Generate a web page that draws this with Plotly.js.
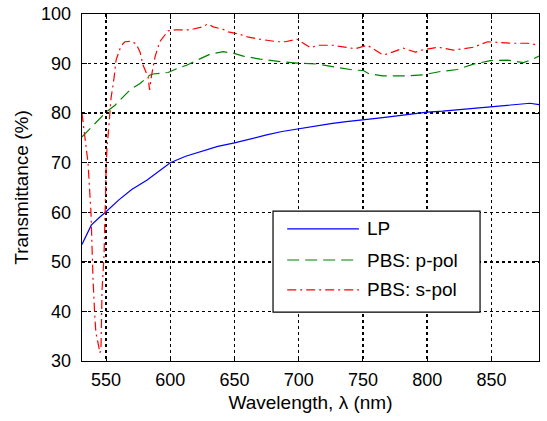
<!DOCTYPE html>
<html>
<head>
<meta charset="utf-8">
<script src="https://cdn.plot.ly/plotly-3.0.1.min.js"></script>
<style>html,body{margin:0;padding:0;background:#fff;}#chart{width:547px;height:421px;}</style>
</head>
<body>
<div id="chart"></div>
<script>
// LP (linear polarizer)
const lpWavelength = [531.3,535,538.5,545,550,560,570,582,590,600,612,625,637,650,662,675,687,700,712,725,737,750,762,775,787,800,812,825,837,850,862,875,880,887];
const lpTrans      = [53.5,55.5,57.4,59,60.1,62.5,64.6,66.5,68,70.0,71.3,72.4,73.3,74.0,74.8,75.6,76.3,76.9,77.4,77.9,78.3,78.6,79.0,79.4,79.8,80.2,80.4,80.7,81.0,81.2,81.5,81.8,82.0,81.7];

// PBS p-polarization
const pWavelength = [531.3,550,557,568.7,576.5,584.3,586.6,598.3,605.3,613.1,620.9,631.0,641.2,649.0,656.8,670.0,685.6,698.8,714.4,723.0,733.9,742.5,750.3,754.2,765.1,783.0,796.2,810.3,823.5,836.0,849.2,862.5,874.9,880.4,887];
const pTrans      = [75.2,80.2,81.6,84.7,86,87.7,87.9,88.2,89,89.7,90.7,91.9,92.4,92.1,91.5,90.9,90.4,90.1,89.9,89.5,89,88.7,88.6,88.0,87.5,87.5,87.7,88.4,88.8,89.9,90.6,90.7,90.2,90.7,91.5];

// PBS s-polarization
const sWavelength = [531.3,533.6,536.0,538.3,539.1,539.9,541.4,542.2,543.8,545.3,546.1,546.3,546.9,548.4,549.2,549.6,550.0,550.8,552.1,553.9,556.2,557.8,560.9,563.2,564.8,569,573.4,576.5,578.8,582.7,583.9,585.5,588.2,590.5,591.8,598.3,603.8,615.5,624.8,629.5,633.4,641.2,645.1,652.9,659.9,670.0,683.3,689.5,698.8,709.0,715.2,726.1,738.6,744.0,753.4,759,765.8,772.9,781.4,790.8,797.0,808.7,820.4,836.0,846.9,853.1,864.8,878.1,887];
const sTrans      = [80,75.2,69.9,59.9,53,46.3,38.3,35.6,33.6,31.6,32.8,37.7,44.3,51,56.4,63,68.5,73.2,77,83,87,90.7,93,94,94.4,94.5,94,92.3,89.7,87.3,84.7,87.7,91.4,93.4,94.4,96.6,96.8,96.8,97.4,98,97.4,96.9,96.4,96,95.4,94.9,94.4,94.4,94.9,93.2,93.7,93.7,93.3,93.0,93.7,92.8,91.7,92.3,93.1,92.3,92.8,93.3,92.7,93.3,94.4,94.3,94.1,94.1,93.7];

const seriesNames = ['LP', 'PBS: p-pol', 'PBS: s-pol'];
const xTicks = [550,600,650,700,750,800,850];
const yTicks = [30,40,50,60,70,80,90,100];

const FONT = 'Liberation Sans, Arial, sans-serif';
const colors = ['#0000ff', '#008000', '#ff0000'];
const dashes = ['solid', '12px,6px', '9px,4px,2px,4px'];

const traces = [
  {x: lpWavelength, y: lpTrans, name: seriesNames[0]},
  {x: pWavelength, y: pTrans, name: seriesNames[1]},
  {x: sWavelength, y: sTrans, name: seriesNames[2]}
].map((t, i) => Object.assign(t, {
  type: 'scatter', mode: 'lines', showlegend: false,
  line: {color: colors[i], width: 1.2, dash: dashes[i]}
}));

// custom legend box (paper coords)
const lx0 = 0.418, lx1 = 0.871, ly0 = 0.141, ly1 = 0.432;
const rowY = [0.381, 0.291, 0.205];
const shapes = [{
  type: 'rect', xref: 'paper', yref: 'paper', x0: lx0, x1: lx1, y0: ly0, y1: ly1,
  line: {color: '#000', width: 1.2}, fillcolor: '#fff', layer: 'above'
}];
const annotations = [];
seriesNames.forEach((n, i) => {
  shapes.push({type: 'line', xref: 'paper', yref: 'paper', x0: 0.449, x1: 0.606, y0: rowY[i], y1: rowY[i],
    line: {color: colors[i], width: 1.2, dash: dashes[i]}, layer: 'above'});
  annotations.push({xref: 'paper', yref: 'paper', x: 0.620, y: rowY[i], xanchor: 'left', yanchor: 'middle',
    text: n, showarrow: false, font: {family: FONT, size: 19, color: '#000'}});
});

const layout = {
  width: 547, height: 421,
  margin: {l: 82, r: 8, t: 14, b: 60, pad: 0},
  paper_bgcolor: '#fff', plot_bgcolor: '#fff',
  font: {family: FONT, size: 18, color: '#000'},
  showlegend: false,
  xaxis: {
    range: [531.3, 887], tickvals: xTicks, ticktext: xTicks.map(String),
    showgrid: true, gridcolor: '#000', gridwidth: 1.5, griddash: '3px,3px',
    zeroline: false, showline: true, linecolor: '#000', linewidth: 1.3, mirror: 'ticks',
    ticks: 'inside', ticklen: 5, tickcolor: '#000', ticklabelstandoff: 2,
    tickfont: {family: FONT, size: 18, color: '#000'},
    title: {text: 'Wavelength, λ (nm)', font: {family: FONT, size: 19, color: '#000'}, standoff: 6}
  },
  yaxis: {
    range: [30, 100], tickvals: yTicks, ticktext: yTicks.map(String),
    showgrid: true, gridcolor: '#000', gridwidth: 1.5, griddash: '3px,3px',
    zeroline: false, showline: true, linecolor: '#000', linewidth: 1.3, mirror: 'ticks',
    ticks: 'inside', ticklen: 5, tickcolor: '#000', ticklabelstandoff: 6,
    tickfont: {family: FONT, size: 18, color: '#000'},
    title: {text: 'Transmittance (%)', font: {family: FONT, size: 19, color: '#000'}, standoff: 7}
  },
  shapes: shapes,
  annotations: annotations
};

Plotly.newPlot('chart', traces, layout, {staticPlot: true, displayModeBar: false});
</script>
</body>
</html>
